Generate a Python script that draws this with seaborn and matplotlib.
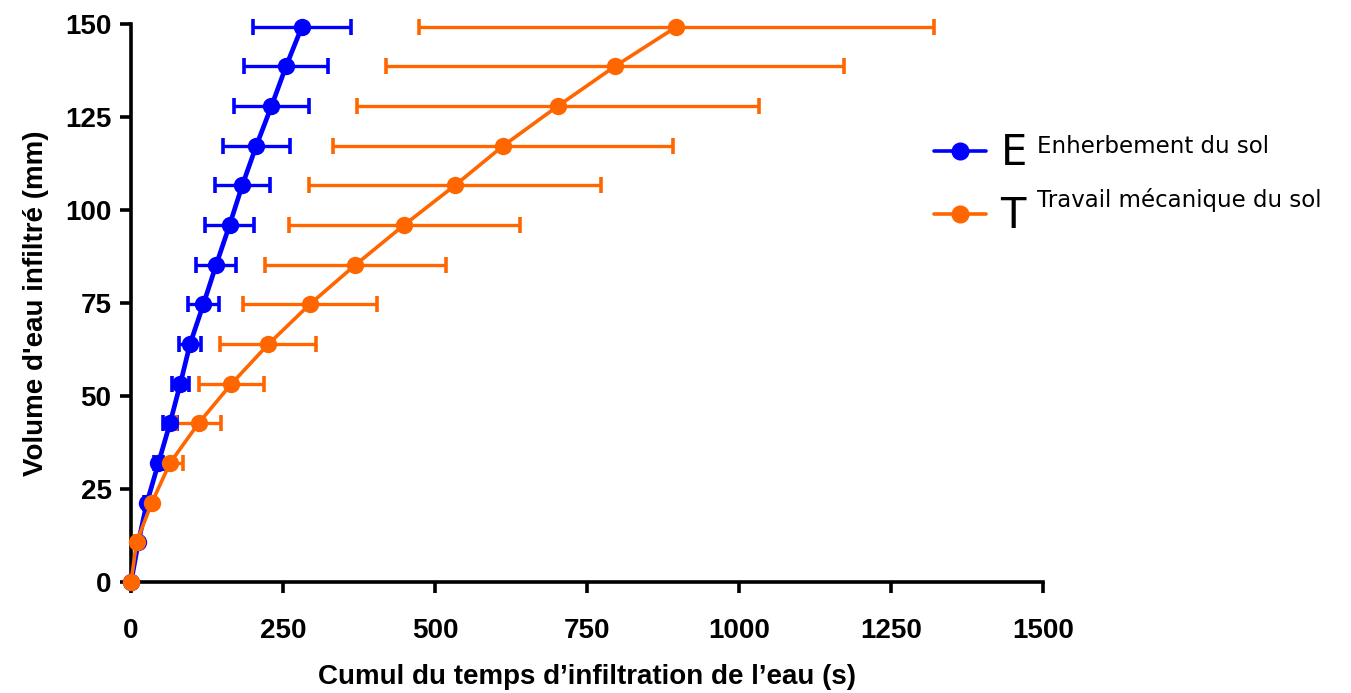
import matplotlib
matplotlib.use("Agg")
import matplotlib.pyplot as plt
import seaborn as sns
import pandas as pd

# volume infiltre (mm), same steps for both treatments
volume = [0, 10.7, 21.3, 32, 42.7, 53.3, 64, 74.7, 85.3, 96, 106.7, 117.3, 128, 138.7, 149.3]

# E - enherbement du sol: cumulative time (s) and error
temps_E = [0, 12, 26, 45, 64, 81, 97, 119, 140, 162, 183, 206, 231, 255, 281]
err_E = [0, 3, 5, 8, 11, 14, 18, 25, 33, 40, 45, 55, 61, 69, 80]

# T - travail mecanique du sol
temps_T = [0, 9, 34, 64, 111, 165, 226, 294, 369, 449, 533, 612, 702, 796, 897]
err_T = [0, 2, 5, 22, 37, 54, 79, 110, 149, 190, 240, 279, 331, 377, 423]

labels = ["E", "T"]
descriptions = ["Enherbement du sol", "Travail mécanique du sol"]
colors = {"E": "#0000FF", "T": "#FF6600"}

df = pd.DataFrame({
    "temps": temps_E + temps_T,
    "volume": volume + volume,
    "err": err_E + err_T,
    "traitement": ["E"] * len(temps_E) + ["T"] * len(temps_T),
})

sns.set_style("white")
plt.rcParams["font.family"] = ["Liberation Sans", "DejaVu Sans"]
plt.rcParams["text.color"] = "black"
plt.rcParams["axes.labelcolor"] = "black"

fig = plt.figure(figsize=(13.51, 6.93), dpi=100)
ax = fig.add_axes([0.097, 0.160, 0.675, 0.805])

# error bars first, line + markers on top
for trt in labels:
    sub = df[df["traitement"] == trt]
    ax.errorbar(sub["temps"], sub["volume"], xerr=sub["err"], fmt="none",
                ecolor=colors[trt], elinewidth=2.4, capsize=6, capthick=2.6,
                clip_on=False, zorder=2)

sns.lineplot(data=df, x="temps", y="volume", hue="traitement", palette=colors,
             sort=False, estimator=None, marker="o", markersize=12.5,
             markeredgewidth=0, linewidth=3.4, ax=ax, legend=False, zorder=3)
for line in ax.lines:
    line.set_clip_on(False)
ax.lines[-1].set_linewidth(2.6)

ax.set_xlim(0, 1500)
ax.set_ylim(0, 150)
ax.set_xticks([0, 250, 500, 750, 1000, 1250, 1500])
ax.set_yticks([0, 25, 50, 75, 100, 125, 150])
sns.despine(ax=ax)
for sp in ["left", "bottom"]:
    ax.spines[sp].set_linewidth(2.6)
    ax.spines[sp].set_color("black")
ax.tick_params(axis="both", direction="out", length=8, width=2.6,
               labelsize=20, colors="black", bottom=True, left=True)
ax.tick_params(axis="x", pad=18)
ax.tick_params(axis="y", pad=6)
for lab in ax.get_xticklabels() + ax.get_yticklabels():
    lab.set_fontweight("bold")

ax.set_xlabel("Cumul du temps d’infiltration de l’eau (s)", fontsize=20,
              fontweight="bold", labelpad=14)
ax.set_ylabel("Volume d'eau infiltré (mm)", fontsize=20, fontweight="bold",
              labelpad=12)

# legend: line with marker, big letter, then description
handles = [plt.Line2D([], [], color=colors[t], marker="o", markersize=12,
                      linewidth=2.6) for t in labels]
leg = fig.legend(handles, labels, loc="upper left",
                 bbox_to_anchor=(0.6635, 0.863), frameon=False,
                 prop={"family": "DejaVu Sans", "size": 30},
                 handlelength=1.25, handletextpad=0.35, labelspacing=0.5)
for t in leg.get_texts():
    t.set_color("black")
for txt, y in zip(descriptions, [0.788, 0.711]):
    fig.text(0.7676, y, txt, fontsize=16.5, family="DejaVu Sans", va="center",
             color="black")

fig.savefig("out.png", dpi=100)
